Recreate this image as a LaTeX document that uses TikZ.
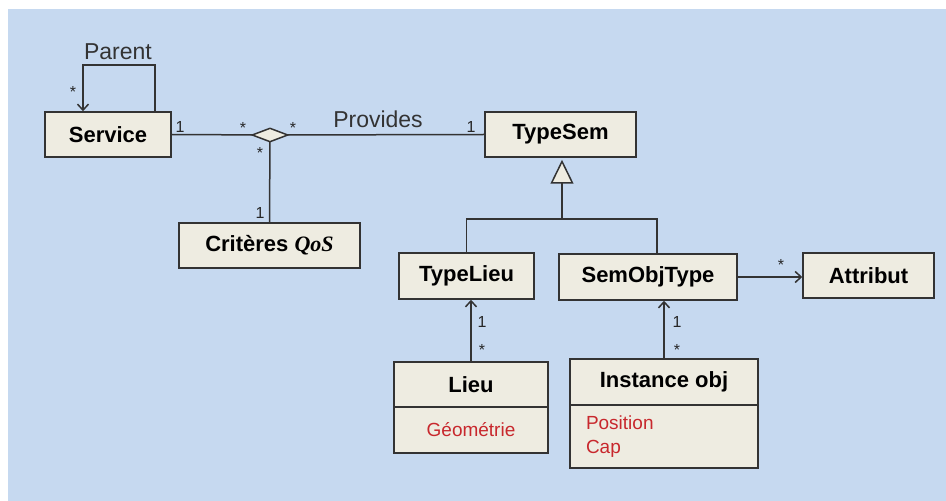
\documentclass[tikz,border=0pt]{standalone}
\usepackage{fontspec}
\setmainfont{Liberation Sans}
\newfontfamily\qosfont{Liberation Serif}
\usetikzlibrary{arrows.meta,shapes.geometric}
\definecolor{bgblue}{HTML}{C6D9F0}
\definecolor{boxfill}{HTML}{EEECE1}
\definecolor{linegray}{HTML}{333333}
\definecolor{attrred}{HTML}{C8282D}
\pgfdeclarelayer{backdrop}
\pgfdeclarelayer{links}
\pgfsetlayers{backdrop,links,main}
\tikzset{
  classbox/.style={draw=linegray, line width=1.5bp, fill=boxfill, inner sep=0pt,
    font=\fontsize{22bp}{26bp}\selectfont\bfseries, text=black},
  attrbox/.style={draw=linegray, line width=1.5bp, fill=boxfill, inner sep=0pt,
    font=\fontsize{19bp}{24bp}\selectfont, text=attrred},
  conn/.style={draw=linegray, line width=1.5bp},
  navarrow/.style={conn, -{Straight Barb[length=6bp,width=11bp,line width=1.5bp]}},
  mult/.style={font=\fontsize{16bp}{18bp}\selectfont, text=black!85, inner sep=0pt},
  rolelabel/.style={font=\fontsize{23bp}{26bp}\selectfont, text=linegray, inner sep=0pt},
  assocdiamond/.style={diamond, draw=linegray, line width=1.5bp, fill=boxfill, inner sep=0pt,
    minimum width=36bp, minimum height=14bp, aspect=2.6},
}
\begin{document}
\begin{tikzpicture}[x=1bp, y=-1bp]
\useasboundingbox (0,0) rectangle (946,501);
\begin{pgfonlayer}{backdrop}
\fill[bgblue] (8,9) rectangle (946,501);
\end{pgfonlayer}

% classes
\node[classbox, minimum width=126bp, minimum height=45bp] (service) at (108,134.5) {Service};
\node[classbox, minimum width=151bp, minimum height=45bp] (typesem) at (560.5,134.5) {TypeSem};
\node[classbox, minimum width=181bp, minimum height=45bp] (criteres) at (269.5,245.5) {Critères {\qosfont\bfseries\itshape QoS}};
\node[classbox, minimum width=135bp, minimum height=46bp] (typelieu) at (466.5,276) {TypeLieu};
\node[classbox, minimum width=178bp, minimum height=46bp] (semobj) at (648,277) {SemObjType};
\node[classbox, minimum width=131bp, minimum height=45bp] (attribut) at (868.5,275.5) {Attribut};

\node[classbox, minimum width=154bp, minimum height=45bp] (lieu) at (471,384.5) {Lieu};
\node[attrbox, minimum width=154bp, minimum height=46bp] (lieuattr) at (471,430) {Géométrie};

\node[classbox, minimum width=188bp, minimum height=46bp] (inst) at (664,382) {Instance obj};
\node[attrbox, minimum width=188bp, minimum height=63bp, text width=156bp, align=left] (instattr) at (664,436.5) {Position\\Cap};

% association diamond
\node[assocdiamond] (assoc) at (270,135) {};

% connectors (under the diamond)
\begin{pgfonlayer}{links}
\draw[conn] (service.east) -- (assoc.center);
\draw[conn] (assoc.center) -- (typesem.west);
\draw[conn] (assoc.center) -- (criteres.north);
\end{pgfonlayer}

% Parent self-association
\draw[navarrow] ([xshift=47bp]service.north) |- ++(-36,-46) coordinate (parentcorner) -| ([xshift=-25bp]service.north);

% generalization
\coordinate (genjoin) at (562,219);
\draw[conn] (typelieu.north) |- (genjoin) -| ([xshift=9bp]semobj.north);
\draw[conn, -{Triangle[length=24bp,width=23bp,fill=boxfill,line width=1.5bp]}, shorten >=2bp] (genjoin) -- (genjoin |- typesem.south);

% navigable associations
\draw[navarrow] (lieu.north) -- (lieu.north |- typelieu.south);
\draw[navarrow] (inst.north) -- (inst.north |- semobj.south);
\draw[navarrow] (semobj.east) -- (semobj.east -| attribut.west);

% labels
\node[rolelabel] (lparent) at (118,52) {Parent};
\node[rolelabel] (lprovides) at (378,119) {Provides};
\node[mult] (m1) at (73,92) {*};
\node[mult] (m2) at (180,127) {1};
\node[mult] (m3) at (243,128) {*};
\node[mult] (m4) at (293,128) {*};
\node[mult] (m5) at (260,153) {*};
\node[mult] (m6) at (260,213) {1};
\node[mult] (m7) at (471,127) {1};
\node[mult] (m8) at (781,265) {*};
\node[mult] (m9) at (482,322) {1};
\node[mult] (m10) at (482,350) {*};
\node[mult] (m11) at (677,322) {1};
\node[mult] (m12) at (677,350) {*};
\end{tikzpicture}
\end{document}
